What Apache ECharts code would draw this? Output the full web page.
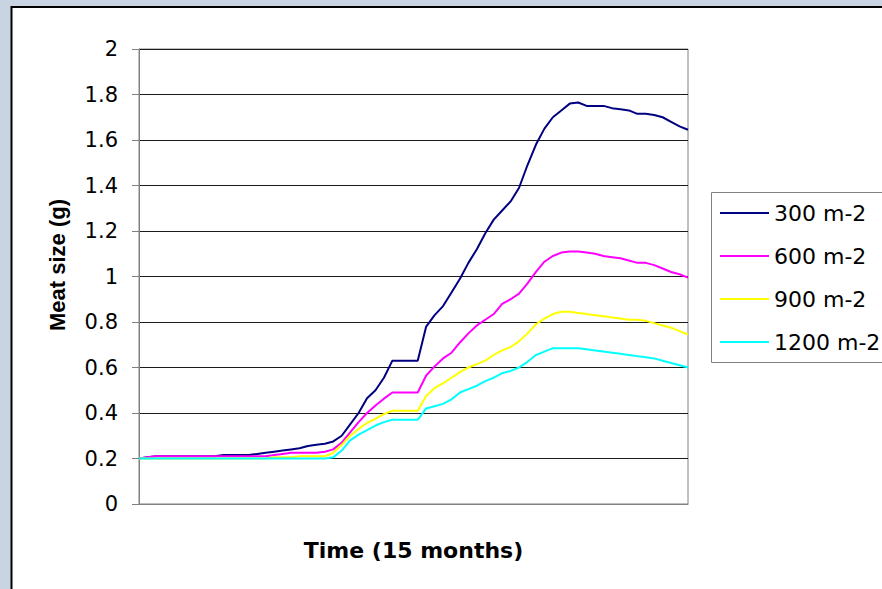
<!DOCTYPE html>
<html>
<head>
<meta charset="utf-8">
<script src="https://cdn.jsdelivr.net/npm/echarts@6/dist/echarts.min.js"></script>
<style>
html,body{margin:0;padding:0;background:#c8d4e2;}
#chart{width:882px;height:589px;}
</style>
</head>
<body>
<div id="chart"></div>
<script>
const weeks = [1,2,3,4,5,6,7,8,9,10,11,12,13,14,15,16,17,18,19,20,21,22,23,24,25,26,27,28,29,30,31,32,33,34,35,36,37,38,39,40,41,42,43,44,45,46,47,48,49,50,51,52,53,54,55,56,57,58,59,60,61,62,63,64,65,66];

const s300 = [0.20,0.205,0.21,0.21,0.21,0.21,0.21,0.21,0.21,0.21,
  0.215,0.215,0.215,0.215,0.22,0.225,0.23,0.235,0.24,0.245,
  0.255,0.26,0.265,0.275,0.30,0.35,0.40,0.465,0.50,0.555,
  0.63,0.63,0.63,0.63,0.78,0.83,0.87,0.93,0.99,1.06,
  1.12,1.19,1.25,1.29,1.33,1.39,1.49,1.58,1.65,1.70,
  1.73,1.76,1.765,1.75,1.75,1.75,1.74,1.735,1.73,1.715,
  1.715,1.71,1.70,1.68,1.66,1.645];

const s600 = [0.20,0.205,0.21,0.21,0.21,0.21,0.21,0.21,0.21,0.21,
  0.21,0.21,0.21,0.21,0.21,0.21,0.215,0.22,0.225,0.225,
  0.225,0.225,0.23,0.24,0.27,0.315,0.36,0.40,0.433,0.463,
  0.49,0.49,0.49,0.49,0.565,0.605,0.64,0.665,0.71,0.75,
  0.785,0.81,0.835,0.88,0.90,0.925,0.97,1.02,1.065,1.09,
  1.105,1.11,1.11,1.105,1.10,1.09,1.085,1.08,1.07,1.06,
  1.06,1.05,1.035,1.02,1.01,0.995];

const s900 = [0.20,0.20,0.20,0.20,0.20,0.20,0.20,0.20,0.20,0.20,
  0.20,0.20,0.20,0.20,0.20,0.20,0.205,0.205,0.205,0.21,
  0.21,0.21,0.21,0.225,0.26,0.30,0.33,0.356,0.375,0.395,
  0.41,0.41,0.41,0.41,0.475,0.51,0.53,0.555,0.58,0.60,
  0.615,0.63,0.655,0.675,0.69,0.715,0.75,0.79,0.815,0.835,
  0.845,0.845,0.84,0.835,0.83,0.825,0.82,0.815,0.81,0.81,
  0.805,0.795,0.785,0.775,0.76,0.745];

const s1200 = [0.20,0.20,0.20,0.20,0.20,0.20,0.20,0.20,0.20,0.20,
  0.20,0.20,0.20,0.20,0.20,0.20,0.20,0.20,0.20,0.20,
  0.20,0.20,0.20,0.205,0.235,0.28,0.305,0.325,0.345,0.36,
  0.37,0.37,0.37,0.37,0.42,0.43,0.44,0.46,0.49,0.505,
  0.52,0.54,0.555,0.575,0.585,0.60,0.625,0.655,0.67,0.685,
  0.685,0.685,0.685,0.68,0.675,0.67,0.665,0.66,0.655,0.65,
  0.645,0.64,0.63,0.62,0.61,0.60];

const seriesNames = ['300 m-2','600 m-2','900 m-2','1200 m-2'];
const seriesColors = ['#000080','#ff00ff','#ffff00','#00ffff'];
const seriesData = [s300, s600, s900, s1200];

const yTitle = 'Meat size (g)';
const xTitle = 'Time (15 months)';

const chart = echarts.init(document.getElementById('chart'), null, {renderer: 'svg'});
const font = 'DejaVu Sans';

chart.setOption({
  backgroundColor: '#c8d4e2',
  animation: false,
  grid: {
    left: 139, top: 49, right: 194, bottom: 85,
    show: true, backgroundColor: '#ffffff',
    borderColor: '#808080', borderWidth: 1,
    containLabel: false
  },
  xAxis: {
    type: 'category',
    data: weeks,
    boundaryGap: false,
    axisLine: {show: true, lineStyle: {color: '#808080', width: 1}},
    axisTick: {show: false},
    axisLabel: {show: false},
    splitLine: {show: false}
  },
  yAxis: {
    type: 'value',
    min: 0, max: 2, interval: 0.2,
    axisLine: {show: true, lineStyle: {color: '#808080', width: 1}},
    axisTick: {show: true, inside: false, length: 7, lineStyle: {color: '#808080'}},
    axisLabel: {
      margin: 21, color: '#000', fontSize: 21, fontFamily: font,
      formatter: function (v) { return String(Math.round(v * 10) / 10); }
    },
    splitLine: {show: true, lineStyle: {color: '#1a1a1a', width: 1}}
  },
  legend: {
    orient: 'vertical',
    left: 711, top: 192,
    padding: [10, 5, 5, 9],
    icon: 'rect',
    itemWidth: 49, itemHeight: 2, itemGap: 21,
    data: seriesNames,
    textStyle: {color: '#000', fontSize: 22, fontFamily: font, lineHeight: 22}
  },
  graphic: [
    {type: 'rect', z: -10, silent: true,
     shape: {x: 11.5, y: 7, width: 900, height: 600},
     style: {fill: '#ffffff', stroke: '#000000', lineWidth: 2}},
    {type: 'rect', z: 1, silent: true,
     shape: {x: 711.5, y: 192.5, width: 200, height: 170},
     style: {fill: 'none', stroke: '#808080', lineWidth: 1}},
    {type: 'text', z: 5, silent: true,
     x: 57, y: 265, rotation: Math.PI / 2,
     style: {text: yTitle, fill: '#000', font: 'bold 22px "Liberation Sans", Arial, sans-serif',
             align: 'center', verticalAlign: 'middle'}},
    {type: 'text', z: 5, silent: true,
     x: 413.5, y: 550,
     style: {text: xTitle, fill: '#000', font: 'bold 22px "DejaVu Sans", sans-serif',
             align: 'center', verticalAlign: 'middle'}}
  ],
  series: seriesNames.map(function (name, i) {
    return {
      name: name,
      type: 'line',
      data: seriesData[i],
      symbol: 'none',
      showSymbol: false,
      smooth: false,
      lineStyle: {color: seriesColors[i], width: 2},
      itemStyle: {color: seriesColors[i]}
    };
  })
});
</script>
</body>
</html>
